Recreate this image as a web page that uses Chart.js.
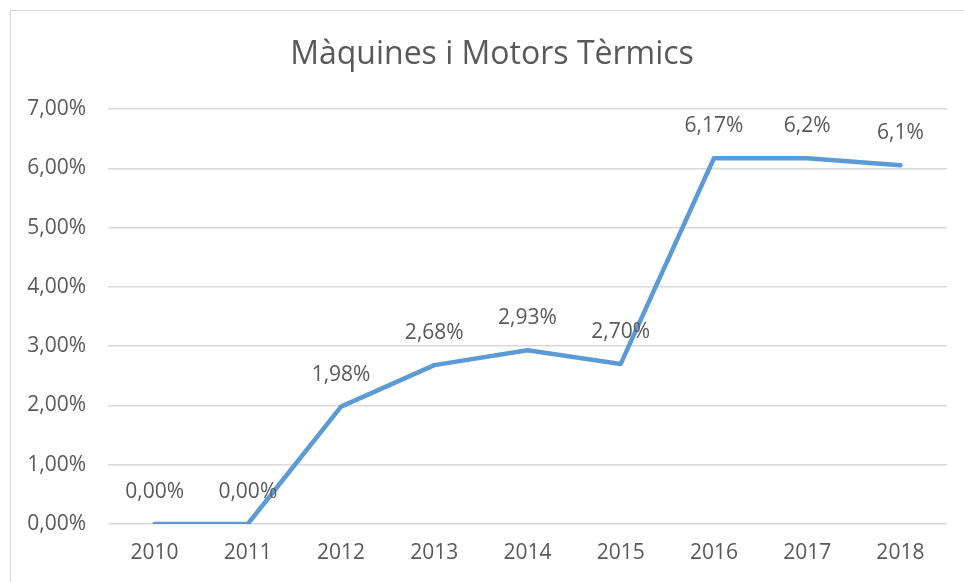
<!DOCTYPE html>
<html>
<head>
<meta charset="utf-8">
<script src="https://cdn.jsdelivr.net/npm/chart.js@4/dist/chart.umd.min.js"></script>
<style>
  html, body { margin: 0; padding: 0; background: #ffffff; overflow: hidden; }
  canvas { display: block; }
</style>
</head>
<body>
<canvas id="myChart" width="964" height="582"></canvas>
<script>
// data

var years = ["2010", "2011", "2012", "2013", "2014", "2015", "2016", "2017", "2018"];
var values = [0.0, 0.0, 1.98, 2.68, 2.93, 2.70, 6.17, 6.17, 6.05];
var pointLabels = ["0,00%", "0,00%", "1,98%", "2,68%", "2,93%", "2,70%", "6,17%", "6,2%", "6,1%"];
var chartTitle = "Màquines i Motors Tèrmics";

// config

var lineColor = "#5B9BD5";
var textColor = "#595959";
var gridColor = "#d9d9d9";
var fontFamily = "'Open Sans', 'Liberation Sans', sans-serif";

function formatPercent(v)
{
    return v.toFixed(2).replace(".", ",") + "%";
}

// frame around whole chart + title (centred on the frame, not the canvas)
var framePlugin = {
    id: "frame",
    beforeDraw: function(chart) {
        var ctx = chart.ctx;
        ctx.save();
        ctx.strokeStyle = gridColor;
        ctx.lineWidth = 1;
        ctx.strokeRect(10.5, 10.5, 1000, 700);
        ctx.font = "32px " + fontFamily;
        ctx.fillStyle = textColor;
        ctx.textAlign = "center";
        ctx.textBaseline = "middle";
        ctx.fillText(chartTitle, 492, 55);
        ctx.restore();
    }
};

// labels above each point
var labelPlugin = {
    id: "pointLabels",
    afterDatasetsDraw: function(chart) {
        var ctx = chart.ctx;
        var meta = chart.getDatasetMeta(0);
        ctx.save();
        ctx.font = "21px " + fontFamily;
        ctx.fillStyle = textColor;
        ctx.textAlign = "center";
        ctx.textBaseline = "middle";
        meta.data.forEach(function(pt, i) {
            ctx.fillText(pointLabels[i], pt.x, pt.y - 32);
        });
        ctx.restore();
    }
};

var ctx = document.getElementById("myChart");
var myChart = new Chart(ctx.getContext("2d"), {
    type: "line",
    data: {
        labels: years,
        datasets: [{
            label: chartTitle,
            data: values,
            borderColor: lineColor,
            backgroundColor: lineColor,
            borderWidth: 4.5,
            pointRadius: 0,
            tension: 0,
            borderCapStyle: "round",
            borderJoinStyle: "round"
        }]
    },
    options: {
        responsive: false,
        animation: false,
        layout: { padding: { top: 109, right: 17, bottom: 16, left: 0 } },
        plugins: {
            legend: { display: false },
            tooltip: { enabled: false },
            title: { display: false }
        },
        scales: {
            x: {
                offset: true,
                afterFit: function(scale) { scale.height = 42; },
                grid: { display: false, drawTicks: false },
                border: { display: false },
                ticks: {
                    color: textColor,
                    padding: 16,
                    font: { family: fontFamily, size: 21 }
                }
            },
            y: {
                min: 0,
                max: 7,
                afterFit: function(scale) { scale.width = 108; },
                grid: { color: gridColor, lineWidth: 1.5, drawTicks: false },
                border: { display: false },
                ticks: {
                    stepSize: 1,
                    color: textColor,
                    padding: 22,
                    font: { family: fontFamily, size: 21 },
                    callback: function(v) { return formatPercent(v); }
                }
            }
        }
    },
    plugins: [framePlugin, labelPlugin]
});
</script>
</body>
</html>
